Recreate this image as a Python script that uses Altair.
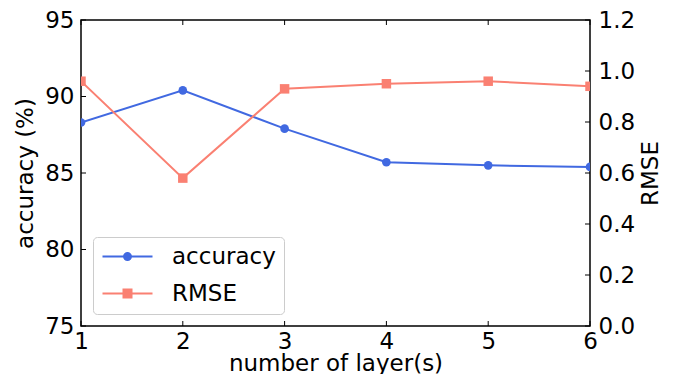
import altair as alt
import pandas as pd

layers = [1, 2, 3, 4, 5, 6]
accuracy = [88.3, 90.4, 87.9, 85.7, 85.5, 85.4]
rmse = [0.96, 0.58, 0.93, 0.95, 0.96, 0.94]
x_ticks = [1, 2, 3, 4, 5, 6]
acc_ticks = [75, 80, 85, 90, 95]
rmse_ticks = [0.0, 0.2, 0.4, 0.6, 0.8, 1.0, 1.2]
series = ["accuracy", "RMSE"]

BLUE = "#4169E1"
SALMON = "#FA8072"
FONT = "DejaVu Sans"
FS = 23
W, H = 509, 306

df = pd.DataFrame({"layer": layers, "accuracy": accuracy, "rmse": rmse})
xt = pd.DataFrame({"v": x_ticks})
at = pd.DataFrame({"v": acc_ticks})
rt = pd.DataFrame({"v": rmse_ticks})
sd = pd.DataFrame({"series": series})

x_scale = alt.Scale(domain=[1, 6], nice=False, zero=False)
acc_scale = alt.Scale(domain=[75, 95], nice=False, zero=False)
rmse_scale = alt.Scale(domain=[0, 1.2], nice=False, zero=False)

# legend glyphs: line segment with marker (unit = 10px, symbol box 20px)
circ = "M-1,-0.1H4V0.1H-1Z M1.05,0A0.45,0.45 0 1,1 1.95,0A0.45,0.45 0 1,1 1.05,0Z"
sq = "M-1,-0.1H4V0.1H-1Z M1,-0.5H2V0.5H1Z"

color_scale = alt.Scale(domain=series, range=[BLUE, SALMON])
shape_scale = alt.Scale(domain=series, range=[circ, sq])

legend = alt.Legend(
    title=None, orient="none", legendX=12, legendY=217,
    labelFont=FONT, labelFontSize=FS, labelColor="black",
    symbolSize=400, labelOffset=48, rowPadding=13, symbolStrokeWidth=0, symbolOpacity=1,
    padding=8, fillColor="white", strokeColor="#cccccc", cornerRadius=4,
)

common = dict(ticks=False, tickSize=0, domain=False, grid=False, labelFlush=False,
              labelFont=FONT, labelFontSize=FS, titleFont=FONT, titleFontSize=FS,
              titleFontWeight="normal", labelColor="black", titleColor="black")

x_axis = alt.Axis(title="number of layer(s)", values=x_ticks, format="d",
                  labelPadding=4, titleY=44, titleBaseline="alphabetic", **common)
acc_axis = alt.Axis(title="accuracy (%)", values=acc_ticks, format="d",
                    labelPadding=7, titlePadding=7, **common)
rmse_axis = alt.Axis(orient="right", title="RMSE", values=rmse_ticks, format=".1f",
                     labelPadding=8, titlePadding=5, titleAngle=270, titleBaseline="top", **common)

acc_line = alt.Chart(df).mark_line(
    strokeWidth=2, clip=True, color=BLUE,
    point=alt.OverlayMarkDef(filled=True, size=75, opacity=1, clip=True, color=BLUE)
).encode(
    x=alt.X("layer:Q", scale=x_scale, axis=x_axis),
    y=alt.Y("accuracy:Q", scale=acc_scale, axis=acc_axis),
)

left_ticks = alt.Chart(at).mark_rule(color="black", strokeWidth=1).encode(
    y=alt.Y("v:Q", scale=acc_scale, axis=acc_axis), x=alt.value(0), x2=alt.value(5))
bottom_ticks = alt.Chart(xt).mark_rule(color="black", strokeWidth=1).encode(
    x=alt.X("v:Q", scale=x_scale, axis=x_axis), y=alt.value(H - 5), y2=alt.value(H))
top_ticks = alt.Chart(xt).mark_rule(color="black", strokeWidth=1).encode(
    x=alt.X("v:Q", scale=x_scale, axis=x_axis), y=alt.value(0), y2=alt.value(5))

rmse_line = alt.Chart(df).mark_line(
    strokeWidth=2, clip=True, color=SALMON,
    point=alt.OverlayMarkDef(filled=True, shape="square", size=90, opacity=1, clip=True, color=SALMON)
).encode(
    x=alt.X("layer:Q", scale=x_scale, axis=x_axis),
    y=alt.Y("rmse:Q", scale=rmse_scale, axis=rmse_axis),
)
right_ticks = alt.Chart(rt).mark_rule(color="black", strokeWidth=1).encode(
    y=alt.Y("v:Q", scale=rmse_scale, axis=rmse_axis), x=alt.value(W - 5), x2=alt.value(W))

legend_layer = alt.Chart(sd).transform_filter("false").mark_point(
    filled=True, size=400, opacity=1
).encode(
    color=alt.Color("series:N", scale=color_scale, legend=legend),
    shape=alt.Shape("series:N", scale=shape_scale, legend=legend),
)

acc_group = alt.layer(left_ticks, bottom_ticks, top_ticks, acc_line)
rmse_group = alt.layer(right_ticks, rmse_line, legend_layer)

chart = alt.layer(acc_group, rmse_group).resolve_scale(y="independent").properties(
    width=W, height=H,
    autosize=alt.AutoSizeParams(type="none"),
    padding={"left": 73, "top": 12, "right": 79, "bottom": 48},
    view=alt.ViewBackground(stroke="black", strokeWidth=1.5),
).configure_view(stroke="black", strokeWidth=1.5).configure(background="white")

chart.save("out.html", embed_options={"renderer": "svg", "actions": False})
